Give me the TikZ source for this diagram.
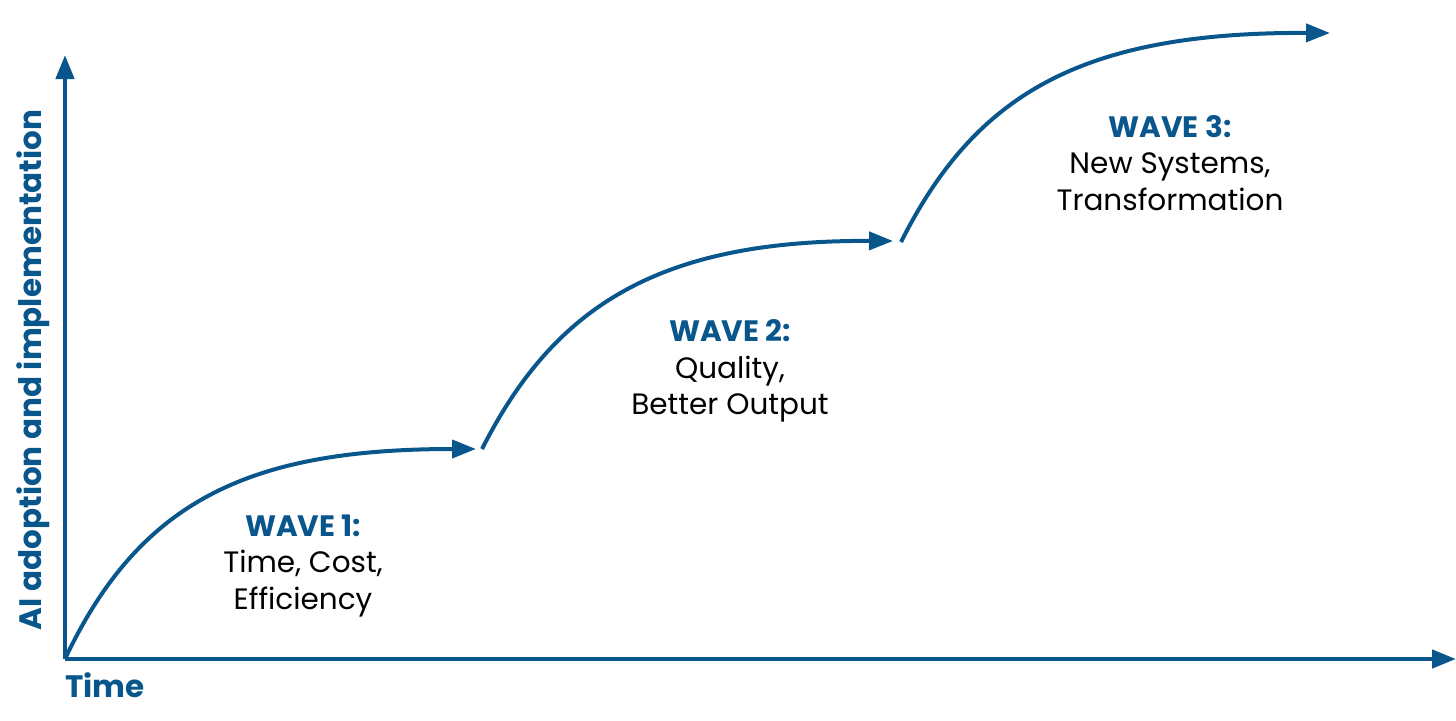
\documentclass[tikz,border=0pt]{standalone}
\usepackage{fontspec}
\setmainfont{Poppins}
\usetikzlibrary{arrows.meta}
\definecolor{wblue}{HTML}{08568C}
\begin{document}
\begin{tikzpicture}[x=1pt,y=-1pt,
  axis/.style={draw=wblue,line width=4.5pt,-{Triangle[length=24pt,width=18pt]}},
  wave/.style={draw=wblue,line width=4pt,-{Triangle[length=24pt,width=18pt]}},
  wtext/.style={align=center,font=\fontsize{29.5}{36.5}\selectfont,text=black,inner sep=0pt},
  axlabel/.style={font=\fontsize{31}{34}\selectfont\bfseries,text=wblue,inner sep=0pt}]
\useasboundingbox (0,0) rectangle (1456,720);
\coordinate (o) at (65,659);
\coordinate (ytip) at (65,55);
\coordinate (xtip) at (1456,659);
\coordinate (s1) at (65,659);
\coordinate (e1) at (476,449);
\coordinate (s2) at (482,449);
\coordinate (e2) at (893,241);
\coordinate (s3) at (901,242);
\coordinate (e3) at (1330,33);
\draw[axis] (o) -- (ytip);
\draw[axis] (o) -- (xtip);
\draw[wave] (s1) .. controls (140,500) and (250,449) .. (e1);
\draw[wave] (s2) .. controls (555,305) and (660,240) .. (e2);
\draw[wave] (s3) .. controls (975,95) and (1080,32) .. (e3);
\node[axlabel,anchor=north west] (tlab) at (65,672) {Time};
\node[axlabel,rotate=90] (ylab) at (33,370) {AI adoption and implementation};
\node[wtext] (w1) at (303,566) {{\bfseries\color{wblue}WAVE 1:}\\Time, Cost,\\Efficiency};
\node[wtext] (w2) at (730,371) {{\bfseries\color{wblue}WAVE 2:}\\Quality,\\Better Output};
\node[wtext] (w3) at (1170,163) {{\bfseries\color{wblue}WAVE 3:}\\New Systems,\\Transformation};
\end{tikzpicture}
\end{document}
